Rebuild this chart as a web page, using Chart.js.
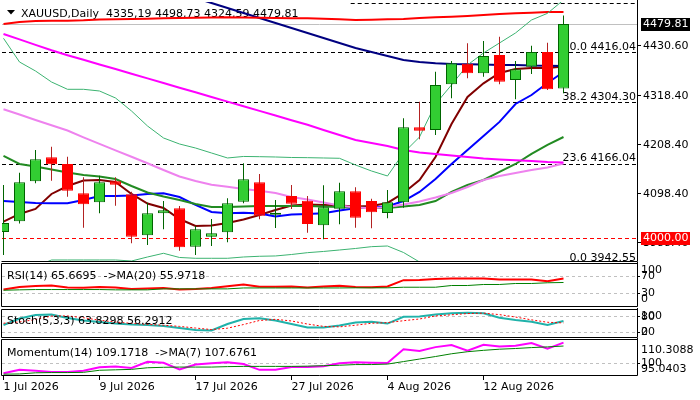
<!DOCTYPE html>
<html>
<head>
<meta charset="utf-8">
<title>XAUUSD Daily</title>
<script src="https://cdn.jsdelivr.net/npm/chart.js@4.4.1/dist/chart.umd.min.js"></script>
<style>
  body { margin: 0; background: #fff; }
  #wrap { position: relative; width: 700px; height: 400px; overflow: hidden; }
  #wrap canvas { position: absolute; left: 0; top: 0; }
</style>
</head>
<body>
<div id="wrap">
  <canvas id="c_main" width="700" height="400"></canvas>
  <canvas id="c_rsi" width="700" height="400"></canvas>
  <canvas id="c_sto" width="700" height="400"></canvas>
  <canvas id="c_mom" width="700" height="400"></canvas>
</div>
<script>
// ---- dados ----
var dates = ['1 Jul 2026', '2 Jul 2026', '3 Jul 2026', '6 Jul 2026', '7 Jul 2026', '8 Jul 2026', '9 Jul 2026', '10 Jul 2026',
  '13 Jul 2026', '14 Jul 2026', '15 Jul 2026', '16 Jul 2026', '17 Jul 2026', '20 Jul 2026', '21 Jul 2026', '22 Jul 2026',
  '23 Jul 2026', '24 Jul 2026', '27 Jul 2026', '28 Jul 2026', '29 Jul 2026', '30 Jul 2026', '31 Jul 2026', '3 Aug 2026',
  '4 Aug 2026', '5 Aug 2026', '6 Aug 2026', '7 Aug 2026', '10 Aug 2026', '11 Aug 2026', '12 Aug 2026', '13 Aug 2026',
  '14 Aug 2026', '17 Aug 2026', '18 Aug 2026', '19 Aug 2026'];
var xTickDates = ['1 Jul 2026', '9 Jul 2026', '17 Jul 2026', '27 Jul 2026', '4 Aug 2026', '12 Aug 2026'];

var openP = [4012.8, 4036.9, 4126.7, 4180.5, 4165.5, 4099.7, 4079.5, 4126.7, 4097.5, 4005.4, 4054.8, 4066.0, 3979.8, 4002.3, 4012.2, 4080.9, 4124.4, 4051.7,
  4093.7, 4083.1, 4027.9, 4065.2, 4104.2, 4082.4, 4055.5, 4079.5, 4247.9, 4241.8, 4344.4, 4390.7, 4369.1, 4410.2, 4354.1, 4383.9, 4416.9, 4335.19];
var highP = [4118.4, 4146.0, 4196.9, 4204.3, 4181.9, 4135.6, 4139.2, 4135.6, 4103.3, 4078.6, 4082.4, 4071.2, 4026.3, 4042.0, 4088.5, 4167.1, 4143.1, 4084.7,
  4118.4, 4093.7, 4117.7, 4123.5, 4113.2, 4087.6, 4107.1, 4268.1, 4305.4, 4372.7, 4396.7, 4436.5, 4441.6, 4451.3, 4396.7, 4431.1, 4437.8, 4498.73];
var lowP = [3961.2, 4032.0, 4122.2, 4128.0, 4092.1, 4022.5, 4054.8, 4071.9, 3987.5, 3983.7, 4018.9, 3970.9, 3961.2, 3981.4, 3990.0, 4077.3, 4041.3, 4021.8,
  4064.5, 4011.3, 3996.5, 4030.1, 4022.5, 4021.1, 4043.6, 4067.4, 4221.0, 4230.6, 4313.0, 4357.9, 4361.5, 4344.4, 4310.7, 4367.6, 4331.6, 4324.59];
var closeP = [4033.0, 4124.4, 4176.1, 4164.8, 4105.6, 4075.0, 4124.4, 4119.0, 4002.3, 4054.8, 4061.6, 3978.5, 4018.9, 4009.9, 4077.3, 4131.1, 4049.4, 4056.2,
  4076.4, 4030.8, 4068.3, 4104.2, 4044.9, 4057.1, 4079.5, 4247.9, 4240.3, 4342.9, 4391.6, 4369.1, 4408.0, 4350.3, 4378.1, 4416.9, 4333.2, 4479.81];

// medias moveis e bandas
var maRed = [4479.8, 4484.3, 4486.5, 4487.2, 4487.2, 4488.1, 4489.9, 4490.4, 4491.0, 4491.7, 4492.6, 4493.3, 4493.9, 4494.4, 4494.9, 4494.4, 4493.9, 4493.3,
  4492.6, 4492.6, 4491.7, 4490.4, 4488.8, 4489.5, 4490.4, 4491.0, 4493.3, 4494.9, 4496.2, 4497.8, 4500.0, 4502.3, 4503.8, 4505.2, 4506.8, 4506.8];
var maNavy = [null, null, null, null, null, null, null, null, null, null, null, null, 4538.2, 4527.0, 4515.7, 4504.5, 4493.3, 4482.1,
  4470.8, 4459.6, 4448.4, 4437.2, 4425.9, 4417.0, 4408.0, 4399.0, 4394.5, 4391.6, 4390.0, 4389.3, 4388.9, 4387.8, 4387.8, 4386.6, 4386.2, 4385.5];
var maMagenta = [4457.4, 4445.2, 4432.9, 4420.8, 4409.8, 4399.4, 4388.9, 4378.6, 4368.0, 4357.7, 4347.4, 4336.8, 4326.5, 4315.9, 4305.6, 4295.3, 4284.7, 4274.4,
  4263.8, 4253.5, 4241.8, 4230.6, 4219.4, 4212.7, 4205.9, 4196.9, 4191.3, 4188.0, 4184.6, 4181.2, 4177.9, 4175.6, 4173.8, 4172.2, 4170.0, 4168.9];
var maViolet = [4288.3, 4276.6, 4264.3, 4252.4, 4240.7, 4225.2, 4210.6, 4196.0, 4181.7, 4167.1, 4152.0, 4137.5, 4127.3, 4119.0, 4114.6, 4109.4, 4105.6, 4100.4,
  4091.4, 4085.8, 4079.1, 4072.3, 4067.9, 4066.1, 4069.0, 4074.6, 4081.3, 4090.3, 4100.4, 4113.9, 4129.6, 4138.6, 4145.3, 4152.0, 4157.7, 4166.6];
var maGreen = [4183.5, 4165.5, 4159.9, 4153.2, 4146.4, 4140.8, 4137.5, 4131.8, 4116.1, 4101.5, 4092.6, 4084.7, 4075.7, 4069.0, 4069.0, 4070.1, 4071.2, 4071.2,
  4071.2, 4071.2, 4070.1, 4069.0, 4067.9, 4066.7, 4066.7, 4070.1, 4073.5, 4082.4, 4102.7, 4118.4, 4129.6, 4147.6, 4165.5, 4188.0, 4208.2, 4226.1];
var maBlue = [4082.4, 4080.2, 4078.0, 4077.3, 4077.3, 4084.7, 4093.7, 4093.7, 4094.8, 4098.2, 4099.7, 4091.4, 4073.5, 4057.8, 4054.8, 4056.2, 4054.4, 4047.7,
  4052.1, 4053.3, 4054.8, 4061.1, 4066.1, 4067.9, 4070.1, 4082.4, 4102.7, 4131.8, 4165.5, 4196.9, 4228.4, 4260.0, 4300.2, 4320.4, 4347.4, 4372.1];
var maMaroon = [4036.0, 4053.3, 4064.5, 4098.2, 4116.1, 4128.5, 4129.6, 4125.1, 4098.2, 4076.8, 4066.7, 4042.0, 4026.3, 4027.4, 4033.1, 4040.9, 4051.0, 4062.2,
  4072.3, 4074.6, 4073.5, 4072.3, 4070.1, 4071.2, 4078.0, 4100.4, 4129.6, 4181.2, 4255.3, 4315.9, 4346.7, 4369.8, 4378.8, 4381.0, 4381.0, 4384.4];
var bbUpper = [4447.7, 4394.5, 4374.3, 4349.6, 4333.2, 4333.2, 4329.4, 4313.7, 4284.5, 4250.8, 4223.9, 4210.4, 4201.4, 4190.2, 4179.0, 4182.4, 4181.9, 4181.2,
  4180.1, 4179.7, 4179.0, 4178.3, 4163.3, 4149.8, 4138.6, 4190.2, 4226.1, 4300.2, 4342.9, 4387.8, 4414.7, 4437.2, 4459.6, 4488.8, 4503.8, 4533.7];
var bbLower = [null, null, 3935.0, 3950.0, 3950.0, 3950.0, 3950.0, 3950.0, 3947.7, 3956.7, 3965.0, 3955.6, 3953.8, 3953.8, 3953.8, 3956.7, 3958.3, 3959.0,
  3962.3, 3966.4, 3969.1, 3972.4, 3975.8, 3979.9, 3981.4, 3966.8, 3945.5, 3910.0, null, null, null, null, null, null, null, null];

// osciladores
var rsi = [39.2, 45.2, 47.6, 48.8, 44.0, 43.3, 45.2, 44.0, 40.4, 41.6, 42.8, 39.2, 40.4, 42.8, 47.1, 51.2, 45.7, 45.7,
  46.4, 44.0, 46.4, 48.1, 45.2, 44.7, 46.4, 61.6, 62.0, 64.5, 65.7, 65.7, 65.7, 63.3, 63.3, 63.3, 59.2, 65.6695];
var rsiMa = [37.5, 38.5, 39.2, 39.2, 39.2, 39.2, 39.2, 38.5, 38.5, 38.5, 40.8, 40.8, 40.8, 40.8, 40.8, 43.0, 43.0, 43.0,
  43.0, 43.0, 43.0, 43.0, 43.3, 43.3, 43.3, 44.7, 44.7, 44.7, 48.8, 48.8, 51.2, 51.2, 53.6, 53.6, 55.3, 55.9718];
var stoMain = [48.1, 73.1, 86.5, 88.5, 75.0, 65.4, 59.6, 53.8, 50.0, 48.1, 44.2, 36.5, 28.8, 26.9, 51.9, 71.2, 73.8, 65.4,
  51.9, 38.5, 38.5, 46.2, 57.7, 60.8, 53.8, 79.6, 80.8, 88.5, 93.1, 95.4, 93.1, 76.2, 67.3, 60.8, 48.1, 63.8298];
var stoSig = [55.0, 60.0, 69.2, 82.7, 83.3, 76.3, 66.7, 59.6, 54.5, 50.6, 47.4, 42.9, 36.5, 30.7, 35.9, 50.0, 65.6, 70.1,
  63.7, 51.9, 42.9, 41.0, 47.4, 54.9, 57.4, 64.7, 71.4, 83.0, 87.5, 92.3, 93.9, 88.2, 78.9, 68.1, 58.7, 56.2912];
var mom = [95.8, 97.3, 96.9, 96.3, 96.3, 96.9, 98.4, 98.7, 98.1, 100.8, 100.4, 97.5, 99.6, 100.2, 100.6, 99.8, 97.3, 97.3,
  98.5, 98.5, 98.9, 100.2, 100.6, 100.4, 100.3, 106.3, 105.5, 107.2, 108.1, 105.6, 108.2, 107.5, 107.8, 109.0, 106.5, 109.1718];
var momMa = [95.4, 95.5, 96.0, 96.1, 96.1, 96.2, 97.1, 97.3, 97.5, 98.2, 98.4, 98.5, 98.5, 98.5, 98.7, 98.8, 98.8, 98.8,
  98.8, 98.9, 99.1, 99.3, 99.6, 99.6, 99.8, 100.9, 102.0, 103.1, 104.3, 105.2, 105.8, 106.3, 106.6, 107.0, 107.3, 107.6761];

// eixos e niveis
var mainTicks = [4430.60, 4318.40, 4208.40, 4098.40, 3988.40];
var fibNames = ['61.8', '50.0', '38.2', '23.6', '0.0'];
var fibLevels = [4527.80, 4416.04, 4304.30, 4166.04, 3942.55];
var redLevel = 4000.00;
var rsiLevels = [30, 70];
var stoLevels = [20, 80];
var momLevels = [100];
var momMin = 95.0403, momMax = 110.3088;

// ---- montagem ----
Chart.defaults.font.family = '"DejaVu Sans", sans-serif';
Chart.defaults.font.size = 11;
Chart.defaults.color = '#000';
Chart.defaults.animation = false;

var FONT = '11px "DejaVu Sans"';
var idx = dates.map(function (d, i) { return i; });
var xTickIdx = xTickDates.map(function (d) { return dates.indexOf(d); });
var last = dates.length - 1;
// candle 0 fica cortado na borda esquerda, 16px por barra
var xMin = -1.5 / 16, xMax = (637 - 3.5) / 16;

var bodies = [], wicks = [], bodyFill = [], bodyEdge = [], wickColor = [];
for (var i = 0; i < dates.length; i++) {
  var up = closeP[i] >= openP[i];
  bodies.push([openP[i], closeP[i]]);
  wicks.push([lowP[i], highP[i]]);
  bodyFill.push(up ? '#32cd32' : '#ff0000');
  bodyEdge.push(up ? '#006400' : '#ff0000');
  wickColor.push(up ? '#006400' : '#b22222');
}

function fmt2(v) { return v.toFixed(2); }

function xScale(show) {
  return {
    type: 'linear', min: xMin, max: xMax, offset: false, display: show,
    afterBuildTicks: function (s) { s.ticks = xTickIdx.map(function (v) { return { value: v }; }); },
    afterFit: function (s) { s.height = show ? 20 : 0; s.paddingLeft = 0; s.paddingRight = 0; },
    ticks: { align: 'start', autoSkip: false, maxRotation: 0, minRotation: 0, padding: 1,
      callback: function (v) { return dates[v]; } },
    grid: { offset: false, drawOnChartArea: false, tickLength: 5, color: '#000' },
    border: { display: false }
  };
}

function yScale(min, max, ticks, fmt, tl, pad, gridColor) {
  return {
    position: 'right', min: min, max: max,
    afterBuildTicks: function (s) { s.ticks = ticks.map(function (v) { return { value: v }; }); },
    afterFit: function (s) { s.width = 63; s.paddingTop = 0; s.paddingBottom = 0; },
    ticks: { autoSkip: false, padding: pad, callback: fmt },
    grid: { drawOnChartArea: !!gridColor, color: gridColor || '#000', tickColor: '#000', tickLength: tl },
    border: { display: false, dash: [3, 3] }
  };
}

function line(data, color, width, dash) {
  return { type: 'line', data: data, borderColor: color, borderWidth: width, borderDash: dash || [],
    pointRadius: 0, tension: 0, spanGaps: false, clip: 0, order: 2 };
}

// borda do painel, titulo e rotulos extremos da escala
var panelDeco = {
  id: 'panelDeco',
  afterDatasetsDraw: function (chart, args, o) {
    var ctx = chart.ctx, a = chart.chartArea;
    ctx.save();
    ctx.font = FONT;
    ctx.fillStyle = '#000';
    if (o.title) {
      ctx.textAlign = 'left'; ctx.textBaseline = 'alphabetic';
      ctx.fillText(o.title, a.left + 5, a.top + o.titleDy);
    }
    (o.edge || []).forEach(function (e) {
      ctx.textAlign = 'left'; ctx.textBaseline = 'middle';
      ctx.fillText(e.text, a.right + 4, e.top ? a.top + e.dy : a.bottom - e.dy);
    });
    var l = a.left - 0.5, r = a.right + 0.5, t = a.top - 0.5, b = a.bottom + 0.5;
    var s = o.sides || 'tblr';
    ctx.strokeStyle = '#000'; ctx.lineWidth = 1;
    ctx.beginPath();
    if (s.indexOf('t') >= 0) { ctx.moveTo(l, t); ctx.lineTo(r, t); }
    if (s.indexOf('b') >= 0) { ctx.moveTo(l, b); ctx.lineTo(r, b); }
    if (s.indexOf('l') >= 0) { ctx.moveTo(l, t); ctx.lineTo(l, b); }
    if (s.indexOf('r') >= 0) { ctx.moveTo(r, a.top - 2); ctx.lineTo(r, b); }
    ctx.stroke();
    ctx.restore();
  }
};

// niveis de fibonacci, linha de preco, cabecalho e etiquetas
var mainDeco = {
  id: 'mainDeco',
  beforeDatasetsDraw: function (chart) {
    var ctx = chart.ctx, a = chart.chartArea, y = chart.scales.y, x = chart.scales.x;
    ctx.save();
    ctx.beginPath(); ctx.rect(a.left, a.top, a.right - a.left, a.bottom - a.top); ctx.clip();
    ctx.lineWidth = 1;
    var py = Math.round(y.getPixelForValue(closeP[last])) + 0.5;
    ctx.strokeStyle = '#c0c0c0';
    ctx.beginPath(); ctx.moveTo(a.left, py); ctx.lineTo(a.right, py); ctx.stroke();

    ctx.setLineDash([4, 3]);
    ctx.strokeStyle = '#000';
    fibLevels.forEach(function (v, k) {
      var ly = Math.round(y.getPixelForValue(v)) + 0.5;
      var from = k === 0 ? x.getPixelForValue(21.7) : a.left;
      ctx.beginPath(); ctx.moveTo(from, ly); ctx.lineTo(a.right, ly); ctx.stroke();
    });
    ctx.strokeStyle = '#ff0000';
    var ry = Math.round(y.getPixelForValue(redLevel)) + 0.5;
    ctx.beginPath(); ctx.moveTo(a.left, ry); ctx.lineTo(a.right, ry); ctx.stroke();
    ctx.setLineDash([]);

    ctx.font = FONT;
    ctx.fillStyle = '#000';
    ctx.textAlign = 'right'; ctx.textBaseline = 'alphabetic';
    fibLevels.forEach(function (v, k) {
      ctx.fillText(fibNames[k] + ' ' + v.toFixed(2), a.right - 1, y.getPixelForValue(v) - 2.4);
    });

    // cabecalho
    ctx.beginPath(); ctx.moveTo(7, 10); ctx.lineTo(15, 10); ctx.lineTo(11, 14.5); ctx.closePath(); ctx.fill();
    var ohlc = [openP[last], highP[last], lowP[last], closeP[last]].map(function (v) {
      return v.toFixed(2).replace('.', ',');
    }).join(' ');
    ctx.textAlign = 'left';
    ctx.fillText('XAUUSD,Daily  ' + ohlc, 21, 17);
    ctx.restore();
  },
  afterDraw: function (chart) {
    var ctx = chart.ctx, a = chart.chartArea, y = chart.scales.y;
    function tag(v, bg) {
      var p = y.getPixelForValue(v);
      ctx.fillStyle = bg;
      ctx.fillRect(a.right + 4, Math.round(p) - 6, 49, 13);
      ctx.fillStyle = '#fff';
      ctx.fillText(v.toFixed(2), a.right + 6, p + 0.5);
    }
    ctx.save();
    ctx.font = FONT; ctx.textAlign = 'left'; ctx.textBaseline = 'middle';
    tag(closeP[last], '#000');
    tag(redLevel, '#ff0000');
    ctx.restore();
  }
};

var base = { legend: { display: false }, tooltip: { enabled: false } };

new Chart(document.getElementById('c_main'), {
  type: 'bar',
  data: {
    labels: idx,
    datasets: [
      { type: 'bar', data: bodies, backgroundColor: bodyFill, borderColor: bodyEdge, borderWidth: 1,
        borderSkipped: false, inflateAmount: 0, maxBarThickness: 11, grouped: false, clip: 0, order: 0 },
      { type: 'bar', data: wicks, backgroundColor: wickColor, borderWidth: 0, inflateAmount: 0,
        maxBarThickness: 1, grouped: false, clip: 0, order: 1 },
      line(bbUpper, '#3cb371', 1),
      line(bbLower, '#3cb371', 1),
      line(maRed, '#ff0000', 2),
      line(maNavy, '#000080', 2),
      line(maMagenta, '#ff00ff', 2),
      line(maViolet, '#ee82ee', 2),
      line(maGreen, '#228b22', 2),
      line(maBlue, '#0000ff', 2),
      line(maMaroon, '#800000', 2)
    ]
  },
  options: {
    responsive: false, events: [],
    layout: { padding: { left: 2, right: 0, top: 2, bottom: 139 } },
    plugins: Object.assign({ panelDeco: { sides: 'rb' } }, base),
    scales: {
      x: xScale(false),
      y: yScale(3947.7, 4529.2, mainTicks, fmt2, 4, 2, null)
    }
  },
  plugins: [mainDeco, panelDeco]
});

new Chart(document.getElementById('c_rsi'), {
  type: 'line',
  data: { labels: idx, datasets: [line(rsiMa, '#008000', 1), line(rsi, '#ff0000', 2)] },
  options: {
    responsive: false, events: [],
    layout: { padding: { left: 2, right: 0, top: 264, bottom: 94 } },
    plugins: Object.assign({
      panelDeco: {
        title: 'RSI(14) ' + rsi[last].toFixed(4) + '  ->MA(20) ' + rsiMa[last].toFixed(4), titleDy: 15.3,
        edge: [{ text: '100', top: true, dy: 6.5 }, { text: '0', top: false, dy: 7 }]
      }
    }, base),
    scales: {
      x: xScale(false),
      y: yScale(0, 100, rsiLevels, function (v) { return String(v); }, 3, 1, '#c0c0c0')
    }
  },
  plugins: [panelDeco]
});

new Chart(document.getElementById('c_sto'), {
  type: 'line',
  data: { labels: idx, datasets: [line(stoSig, '#ff0000', 1, [2, 2]), line(stoMain, '#20b2aa', 2)] },
  options: {
    responsive: false, events: [],
    layout: { padding: { left: 2, right: 0, top: 310, bottom: 63 } },
    plugins: Object.assign({
      panelDeco: {
        title: 'Stoch(5,3,3) ' + stoMain[last].toFixed(4) + ' ' + stoSig[last].toFixed(4), titleDy: 14,
        edge: [{ text: '100', top: true, dy: 6.5 }, { text: '0', top: false, dy: 4.7 }]
      }
    }, base),
    scales: {
      x: xScale(false),
      y: yScale(2, 106, stoLevels, function (v) { return String(v); }, 3, 1, '#c0c0c0')
    }
  },
  plugins: [panelDeco]
});

new Chart(document.getElementById('c_mom'), {
  type: 'line',
  data: { labels: idx, datasets: [line(momMa, '#008000', 1), line(mom, '#ff00ff', 2)] },
  options: {
    responsive: false, events: [],
    layout: { padding: { left: 2, right: 0, top: 340, bottom: 5 } },
    plugins: Object.assign({
      panelDeco: {
        title: 'Momentum(14) ' + mom[last].toFixed(4) + '  ->MA(7) ' + momMa[last].toFixed(4), titleDy: 15.7,
        edge: [{ text: momMax.toFixed(4), top: true, dy: 9.7 }, { text: momMin.toFixed(4), top: false, dy: 5.8 }]
      }
    }, base),
    scales: {
      x: xScale(true),
      y: yScale(momMin, momMax, momLevels, function (v) { return String(v); }, 3, 1, '#c0c0c0')
    }
  },
  plugins: [panelDeco]
});
</script>
</body>
</html>
